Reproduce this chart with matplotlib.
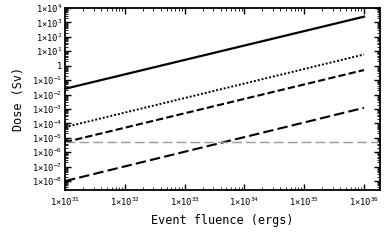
import matplotlib
matplotlib.use('Agg')
import matplotlib.pyplot as plt
import matplotlib.ticker as ticker
import numpy as np

plt.rcParams['font.family'] = 'DejaVu Sans Mono'
plt.rcParams['mathtext.fontset'] = 'custom'
plt.rcParams['mathtext.rm'] = 'DejaVu Sans Mono'
plt.rcParams['mathtext.it'] = 'DejaVu Sans Mono'
plt.rcParams['mathtext.default'] = 'rm'

# fluence endpoints (ergs) and dose at those endpoints (Sv)
fluence = [1e31, 1e36]
dose_solid = [2.5e-2, 2.5e3]
dose_dotted = [5.5e-5, 6.0]
dose_dashed = [5.0e-6, 0.5]
dose_longdash = [1.0e-8, 1.2e-3]
threshold = 5.0e-6

fig = plt.figure(figsize=(3.9, 2.44), dpi=100)
ax = fig.add_axes([65/390, 1 - 190/244, 315/390, 182/244])

ax.plot(fluence, dose_solid, color='black', lw=1.6)
ax.plot(fluence, dose_dotted, color='black', lw=1.4, linestyle=(0, (1, 1)))
ax.plot(fluence, dose_dashed, color='black', lw=1.5, linestyle=(0, (3.5, 1.5)))
ax.plot(fluence, dose_longdash, color='black', lw=1.5, linestyle=(0, (5, 2)))
ax.axhline(threshold, color='#999999', lw=1.0, linestyle=(0, (7, 3)))

ax.set_xscale('log')
ax.set_yscale('log')
ax.set_xlim(1e31, 1.85e36)
ax.set_ylim(2.4e-9, 1e4)

def fmt(v, pos):
    e = int(round(np.log10(v)))
    if e == 0:
        return '1'
    return r'1×10$^{%d}$' % e

ax.xaxis.set_major_locator(ticker.LogLocator(base=10, numticks=20))
ax.yaxis.set_major_locator(ticker.LogLocator(base=10, numticks=20))
ax.xaxis.set_minor_locator(ticker.LogLocator(base=10, subs=np.arange(2, 10), numticks=20))
ax.yaxis.set_minor_locator(ticker.LogLocator(base=10, subs=np.arange(2, 10), numticks=20))
ax.xaxis.set_major_formatter(ticker.FuncFormatter(fmt))
ax.yaxis.set_major_formatter(ticker.FuncFormatter(fmt))
ax.xaxis.set_minor_formatter(ticker.NullFormatter())
ax.yaxis.set_minor_formatter(ticker.NullFormatter())

ax.tick_params(which='both', direction='in', top=True, right=True, labelsize=6.3)
ax.tick_params(which='major', length=4, width=1)
ax.tick_params(which='minor', length=2, width=0.6)
ax.tick_params(axis='x', pad=4)
ax.tick_params(axis='y', pad=2)
for s in ax.spines.values():
    s.set_linewidth(1.3)

ax.set_xlabel('Event fluence (ergs)', fontsize=8.5, labelpad=4)
ax.set_ylabel('Dose (Sv)', fontsize=8.5, labelpad=5)

fig.savefig('out.png', dpi=100)
